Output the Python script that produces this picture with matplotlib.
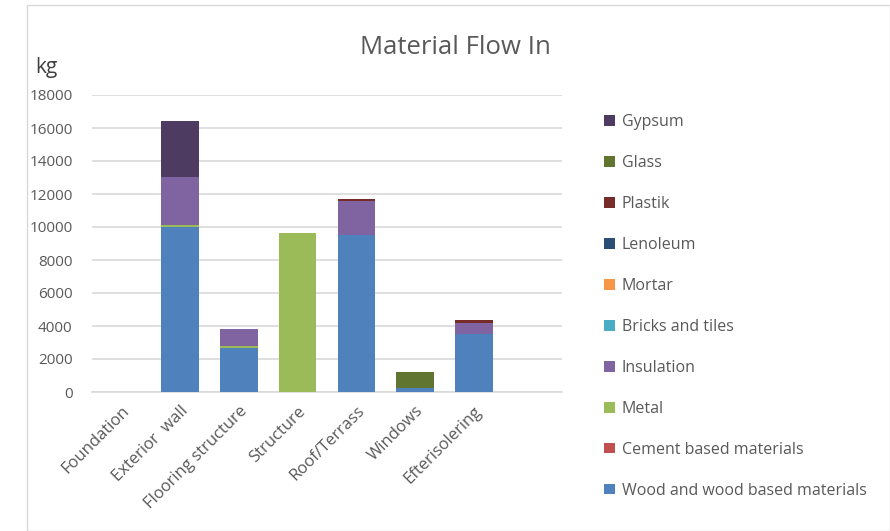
import matplotlib.pyplot as plt
import numpy as np
from matplotlib.patches import Rectangle

plt.rcParams["font.family"] = ["Open Sans", "DejaVu Sans"]

# Building parts (last slot left empty, as in the source workbook)
parts = [
    "Foundation",
    "Exterior  wall",
    "Flooring structure",
    "Structure",
    "Roof/Terrass",
    "Windows",
    "Efterisolering",
    "",
]

# Material masses per building part, kg
wood = [0, 10000, 2650, 0, 9500, 250, 3500, 0]
cement = [0, 0, 0, 0, 0, 0, 0, 0]
metal = [0, 150, 150, 9650, 0, 0, 0, 0]
insulation = [0, 2900, 1000, 0, 2100, 0, 700, 0]
bricks = [0, 0, 0, 0, 0, 0, 0, 0]
mortar = [0, 0, 0, 0, 0, 0, 0, 0]
lenoleum = [0, 0, 0, 0, 0, 0, 0, 0]
plastik = [0, 0, 0, 0, 100, 0, 150, 0]
glass = [0, 0, 0, 0, 0, 950, 0, 0]
gypsum = [0, 3350, 0, 0, 0, 0, 0, 0]

series = [
    ("Wood and wood based materials", wood, "#4F81BD"),
    ("Cement based materials", cement, "#C0504D"),
    ("Metal", metal, "#9BBB59"),
    ("Insulation", insulation, "#8064A2"),
    ("Bricks and tiles", bricks, "#4BACC6"),
    ("Mortar", mortar, "#F79646"),
    ("Lenoleum", lenoleum, "#2C4D75"),
    ("Plastik", plastik, "#772C2A"),
    ("Glass", glass, "#5F7530"),
    ("Gypsum", gypsum, "#4D3B62"),
]

text_color = "#595959"
grid_color = "#D9D9D9"

fig = plt.figure(figsize=(8.9, 5.31), dpi=100)
ax = fig.add_axes([92 / 890, 1 - 392 / 531, 470 / 890, 297 / 531])

x = np.arange(len(parts))
bottom = np.zeros(len(parts))
handles = []
for name, values, color in series:
    vals = np.array(values, dtype=float)
    h = ax.bar(x, vals, width=0.64, bottom=bottom, color=color, label=name,
               zorder=3, linewidth=0)
    handles.append(h)
    bottom += vals

ax.set_xlim(-0.5, len(parts) - 0.5)
ax.set_ylim(0, 18000)
ax.set_yticks(np.arange(0, 18001, 2000))
ax.yaxis.grid(True, color=grid_color, linewidth=1.2, zorder=0)
ax.set_axisbelow(True)
for side in ("top", "right", "left"):
    ax.spines[side].set_visible(False)
ax.spines["bottom"].set_color(grid_color)
ax.spines["bottom"].set_linewidth(1.2)
ax.tick_params(axis="both", length=0, colors=text_color)
ax.tick_params(axis="y", pad=14, labelsize=11)
ax.tick_params(axis="x", pad=8, labelsize=12)
ax.set_xticks(x)
ax.set_xticklabels(parts, rotation=45, ha="right", rotation_mode="anchor")

fig.text(455 / 890, 1 - 47 / 531, "Material Flow In", ha="center",
         va="center", fontsize=18.5, color=text_color)
fig.text(46 / 890, 1 - 67 / 531, "kg", ha="center", va="center",
         fontsize=15, color="#404040")

leg = fig.legend(handles[::-1], [s[0] for s in series][::-1],
                 loc="upper left", bbox_to_anchor=(590 / 890, 1 - 100 / 531),
                 frameon=False, fontsize=11.5, labelspacing=1.56,
                 handlelength=0.65, handleheight=0.65, handletextpad=0.45)
for t in leg.get_texts():
    t.set_color(text_color)

fig.patches.append(Rectangle((27 / 890, 0.0), 1 - 27 / 890, 1 - 5 / 531,
                             transform=fig.transFigure, fill=False,
                             edgecolor=grid_color, linewidth=1))

fig.savefig("out.png", dpi=100)
